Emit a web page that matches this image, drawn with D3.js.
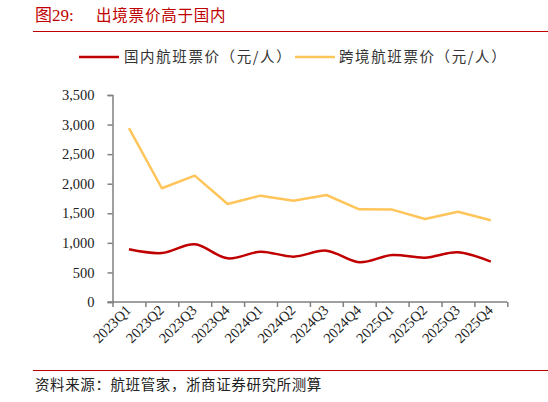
<!DOCTYPE html>
<html><head><meta charset="utf-8">
<script src="https://cdn.jsdelivr.net/npm/d3@7"></script>
<style>body{margin:0;background:#fff;}svg{display:block;}</style>
</head><body>
<svg id="c" width="548" height="402"></svg>
<script>
const categories = ["2023Q1","2023Q2","2023Q3","2023Q4","2024Q1","2024Q2","2024Q3","2024Q4","2025Q1","2025Q2","2025Q3","2025Q4"];
const domestic = [891, 828, 975, 738, 851, 767, 868, 672, 795, 750, 840, 682];
const crossBorder = [2940, 1923, 2136, 1657, 1798, 1713, 1809, 1567, 1562, 1403, 1527, 1381];
const yTicks = [0, 500, 1000, 1500, 2000, 2500, 3000, 3500];
const seriesNames = ["国内航班票价（元/人）", "跨境航班票价（元/人）"];
const titleText = "图29:";
const titleMain = "出境票价高于国内";
const sourceText = "资料来源：航班管家，浙商证券研究所测算";

const svg = d3.select("#c");
const serif = "'Liberation Serif','Times New Roman','Noto Sans CJK SC',serif";
const cjk = "'Noto Sans CJK SC',sans-serif";
const red = "#C00000", yellow = "#FFC55A", axisC = "#808080";

// title
svg.append("text").attr("x",35).attr("y",21).attr("fill",red)
  .attr("font-family",serif).attr("font-size",17).text(titleText);
svg.append("text").attr("x",96).attr("y",21).attr("fill",red)
  .attr("font-family",cjk).attr("font-size",15.5).attr("letter-spacing",0.8).text(titleMain);
svg.append("line").attr("x1",33).attr("x2",548).attr("y1",31.5).attr("y2",31.5)
  .attr("stroke",red).attr("stroke-width",1);
svg.append("line").attr("x1",33).attr("x2",548).attr("y1",370.5).attr("y2",370.5)
  .attr("stroke",red).attr("stroke-width",1);
svg.append("text").attr("x",35).attr("y",390).attr("fill","#222")
  .attr("font-family",cjk).attr("font-size",14.5).attr("letter-spacing",0.6).text(sourceText);

// scales
const x0 = 112.5, x1 = 507.3, yTop = 95, yBot = 302;
const x = d3.scalePoint().domain(categories).range([x0,x1]).padding(0.5);
const xEdge = d3.scaleLinear().domain([0,categories.length]).range([x0,x1]);
const y = d3.scaleLinear().domain([0,3500]).range([yBot,yTop]);

// y axis
const yAx = svg.append("g").attr("transform",`translate(${x0},0)`)
  .call(d3.axisLeft(y).tickValues(yTicks).tickFormat(d3.format(",")).tickSize(5).tickPadding(13));
yAx.select(".domain").attr("stroke",axisC).attr("stroke-width",1.5);
yAx.selectAll(".tick line").attr("stroke",axisC).attr("stroke-width",1.5);
yAx.selectAll("text").attr("font-family",serif).attr("font-size",14.5).attr("fill","#222");

// x axis
const xAx = svg.append("g").attr("transform",`translate(0,${yBot})`)
  .call(d3.axisBottom(xEdge).tickValues(d3.range(categories.length+1)).tickSize(5).tickFormat(""));
xAx.select(".domain").attr("stroke",axisC).attr("stroke-width",1.5).attr("d",`M${x0-5},0H${x1}`);
xAx.selectAll(".tick line").attr("stroke",axisC).attr("stroke-width",1.5);
const xl = svg.append("g");
xl.selectAll("text").data(categories).enter().append("text")
  .attr("transform",d=>`translate(${x(d)+3},${yBot+9}) rotate(-45)`)
  .attr("text-anchor","end").attr("font-family",serif).attr("font-size",14.5)
  .attr("fill","#222").text(d=>d);

// lines
const lineS = d3.line().x((d,i)=>x(categories[i])).y(d=>y(d)).curve(d3.curveCatmullRom.alpha(0.5));
const lineL = d3.line().x((d,i)=>x(categories[i])).y(d=>y(d));
svg.append("path").datum(crossBorder).attr("d",lineL).attr("fill","none")
  .attr("stroke",yellow).attr("stroke-width",2.5).attr("stroke-linejoin","round");
svg.append("path").datum(domestic).attr("d",lineS).attr("fill","none")
  .attr("stroke",red).attr("stroke-width",2.5);

// legend
const leg = [{c:red,x1:79,x2:119,tx:124,t:seriesNames[0]},{c:yellow,x1:295,x2:335,tx:339,t:seriesNames[1]}];
leg.forEach(l=>{
  svg.append("line").attr("x1",l.x1).attr("x2",l.x2).attr("y1",57).attr("y2",57)
    .attr("stroke",l.c).attr("stroke-width",2.5);
  svg.append("text").attr("x",l.tx).attr("y",62).attr("font-family",cjk).attr("font-size",14.5)
    .attr("letter-spacing",1.6).attr("fill","#333").text(l.t);
});
</script>
</body></html>
